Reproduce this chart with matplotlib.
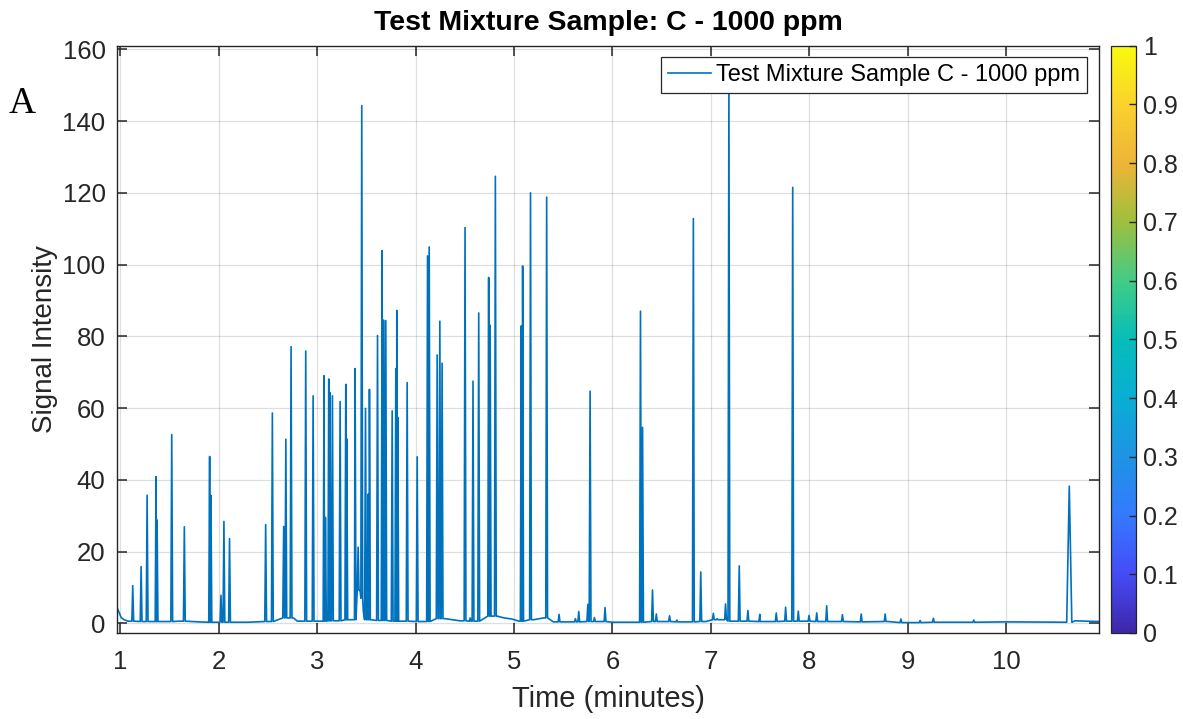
import numpy as np
import matplotlib
matplotlib.use("Agg")
import matplotlib.pyplot as plt
from matplotlib.colors import LinearSegmentedColormap, Normalize
import matplotlib.colorbar as mcolorbar

# ---------------- data ----------------
peak_time = [1.128, 1.213, 1.274, 1.365, 1.375, 1.524, 1.652, 1.909, 1.922, 2.024,
             2.054, 2.111, 2.478, 2.546, 2.661, 2.683, 2.736, 2.885, 2.960, 3.071,
             3.085, 3.119, 3.131, 3.156, 3.234, 3.292, 3.302, 3.386, 3.417, 3.454,
             3.492, 3.519, 3.532, 3.614, 3.661, 3.675, 3.698, 3.763, 3.800, 3.810,
             3.820, 3.915, 4.017, 4.122, 4.139, 4.220, 4.247, 4.270, 4.503, 4.555,
             4.584, 4.642, 4.743, 4.758, 4.811, 5.074, 5.088, 5.168, 5.332, 5.458,
             5.624, 5.658, 5.750, 5.773, 5.817, 5.925, 6.285, 6.306, 6.407, 6.446,
             6.580, 6.654, 6.822, 6.897, 7.025, 7.064, 7.149, 7.183, 7.288, 7.376,
             7.497, 7.664, 7.759, 7.831, 7.888, 7.997, 8.075, 8.176, 8.336, 8.527,
             8.770, 8.930, 9.125, 9.260, 9.670, 10.640]
peak_height = [10.5, 15.8, 35.7, 40.9, 28.8, 52.6, 26.9, 46.5, 35.6, 7.8,
               28.4, 23.6, 27.5, 58.6, 27.0, 51.3, 77.1, 75.9, 63.4, 69.0,
               29.5, 68.1, 64.3, 63.4, 61.8, 66.6, 51.4, 71.0, 21.2, 144.3,
               59.9, 36.0, 65.2, 80.2, 103.9, 84.5, 84.4, 59.2, 71.0, 87.2,
               57.4, 67.1, 46.4, 102.4, 104.9, 74.8, 84.2, 72.5, 110.3, 1.5,
               67.5, 86.5, 96.4, 83.1, 124.6, 82.9, 99.6, 120.0, 118.8, 2.5,
               1.3, 3.3, 5.3, 64.7, 1.6, 4.4, 87.0, 54.6, 9.3, 2.6,
               2.1, 0.9, 112.8, 14.3, 2.8, 1.3, 5.4, 152.0, 16.0, 3.6,
               2.5, 2.9, 4.5, 121.5, 3.4, 2.2, 2.9, 4.9, 2.4, 2.6,
               2.6, 1.2, 0.8, 1.4, 0.9, 38.2]
broad_peaks = {10.640: 0.026}

baseline_time = [0.965, 0.99, 1.01, 1.04, 1.08, 1.20, 1.45, 1.60, 1.80, 2.00,
                 2.30, 2.45, 2.76, 2.80, 3.00, 3.20, 3.38, 3.437, 3.445, 3.47,
                 3.50, 3.60, 3.85, 4.00, 4.30, 4.45, 4.60, 4.83, 4.90, 4.98,
                 5.05, 5.20, 5.30, 5.40, 5.55, 5.85, 6.00, 6.20, 6.50, 6.75,
                 6.95, 7.05, 7.30, 7.50, 7.90, 8.20, 8.50, 8.80, 9.00, 9.50,
                 10.00, 10.50, 10.60, 10.70, 10.80, 10.945]
baseline_level = [4.6, 3.0, 1.6, 1.0, 0.6, 0.5, 0.5, 0.6, 0.4, 0.3,
                  0.3, 0.5, 1.5, 0.6, 0.6, 0.7, 1.0, 9.2, 7.0, 3.3,
                  1.0, 0.8, 0.6, 0.5, 1.3, 0.7, 0.6, 2.0, 1.5, 1.2,
                  0.6, 1.0, 1.5, 0.4, 0.4, 0.5, 0.3, 0.3, 0.5, 0.4,
                  0.5, 1.0, 0.6, 0.5, 0.6, 0.5, 0.4, 0.5, 0.2, 0.3,
                  0.4, 0.3, 0.3, 0.7, 0.6, 0.5]

x_ticks = [1, 2, 3, 4, 5, 6, 7, 8, 9, 10]
y_ticks = [0, 20, 40, 60, 80, 100, 120, 140, 160]
cbar_ticks = [0, 0.1, 0.2, 0.3, 0.4, 0.5, 0.6, 0.7, 0.8, 0.9, 1]
cbar_labels = ["0", "0.1", "0.2", "0.3", "0.4", "0.5", "0.6", "0.7", "0.8", "0.9", "1"]

title_text = "Test Mixture Sample: C - 1000 ppm"
legend_text = "Test Mixture Sample C - 1000 ppm"

# ---------------- build trace vertices ----------------
bt = np.array(baseline_time)
bv = np.array(baseline_level)
half_w = 0.009
verts = list(zip(baseline_time, baseline_level))
for t, h in zip(peak_time, peak_height):
    w = broad_peaks.get(t, half_w)
    foot = bv[np.argmin(np.abs(bt - t))]
    verts += [(t - w, foot), (t, h), (t + w, foot)]
verts.sort(key=lambda p: p[0])
tx = [p[0] for p in verts]
ty = [p[1] for p in verts]

# ---------------- figure ----------------
plt.rcParams['font.family'] = ['Liberation Sans', 'DejaVu Sans']
W, H = 1183, 719
fig = plt.figure(figsize=(W / 100, H / 100), dpi=100)
fig.patch.set_facecolor('white')

ax_l, ax_r, ax_t, ax_b = 116.7, 1099.3, 45.7, 633.0
ax = fig.add_axes([ax_l / W, 1 - ax_b / H, (ax_r - ax_l) / W, (ax_b - ax_t) / H])

txtcol = '#262626'
ax.plot(tx, ty, color='#0072BD', lw=1.2, label=legend_text)
ax.set_xlim(0.965, 10.945)
ax.set_ylim(-2.7, 161)
ax.set_xticks(x_ticks)
ax.set_yticks(y_ticks)
ax.grid(True, color='#000000', alpha=0.13, lw=0.9)
ax.set_axisbelow(True)
ax.tick_params(direction='in', length=7, width=1.1, color=txtcol, labelcolor=txtcol,
               labelsize=18.5, top=True, right=True)
ax.tick_params(axis='x', pad=12)
ax.tick_params(axis='y', pad=8)
for s in ax.spines.values():
    s.set_color(txtcol)
    s.set_linewidth(1.0)

ax.set_xlabel('Time (minutes)', fontsize=21, color=txtcol, labelpad=8)
ax.set_ylabel('Signal Intensity', fontsize=20, color=txtcol, labelpad=3)
ax.set_title(title_text, fontsize=20.5, fontweight='bold', color='black', pad=11)

leg = ax.legend(loc='upper right', bbox_to_anchor=(1 - 12 / 982.6, 1 - 11.3 / 587.3),
                borderaxespad=0, fontsize=17, frameon=True, fancybox=False,
                handlelength=1.85, handletextpad=0.2, borderpad=0.3)
leg.get_frame().set_edgecolor('#262626')
leg.get_frame().set_linewidth(0.9)
leg.get_frame().set_alpha(1)
for t in leg.get_texts():
    t.set_color('black')

fig.text(22 / W, 1 - 104 / H, 'A', family='Liberation Serif', fontsize=27,
         ha='center', va='center', color='black')

# ---------------- colorbar (parula-like) ----------------
parula_pts = [(0.00, (0.2422, 0.1504, 0.6603)),
              (0.10, (0.2691, 0.2991, 0.9668)),
              (0.20, (0.2052, 0.4767, 0.9954)),
              (0.30, (0.1195, 0.5765, 0.8926)),
              (0.40, (0.0383, 0.6816, 0.8281)),
              (0.50, (0.0282, 0.7406, 0.7266)),
              (0.60, (0.2586, 0.7999, 0.5224)),
              (0.70, (0.6187, 0.7492, 0.2438)),
              (0.80, (0.9308, 0.7080, 0.2183)),
              (0.90, (0.9800, 0.8200, 0.1800)),
              (1.00, (0.9763, 0.9831, 0.0538))]
parula = LinearSegmentedColormap.from_list('parula_like', parula_pts, N=256)
cax = fig.add_axes([1111 / W, 1 - ax_b / H, 25 / W, (ax_b - ax_t) / H])
cb = mcolorbar.ColorbarBase(cax, cmap=parula, norm=Normalize(0, 1), orientation='vertical')
cb.set_ticks(cbar_ticks)
cb.set_ticklabels(cbar_labels)
cb.outline.set_edgecolor(txtcol)
cb.outline.set_linewidth(0.9)
cax.tick_params(direction='in', length=5, width=1, color=txtcol, labelcolor=txtcol,
                labelsize=18, pad=5)

fig.savefig('out.png', dpi=100, facecolor='white')
